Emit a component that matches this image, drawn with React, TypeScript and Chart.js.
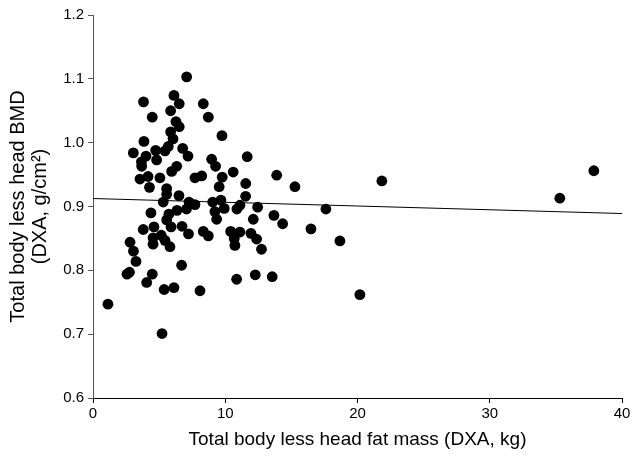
import React, { useEffect, useRef } from "react";
import { Chart, registerables } from "chart.js";

Chart.register(...registerables);

const xTitle = "Total body less head fat mass (DXA, kg)";
const yTitle = ["Total body less head BMD", "(DXA, g/cm²)"];

const fatMass = [
  7.08, 3.82, 6.12, 6.52, 5.87, 4.48, 6.27, 6.52, 5.87, 6.05,
  3.85, 5.69, 3.05, 4.01, 4.74, 5.44, 6.78, 7.18, 4.81, 3.68,
  6.33, 5.95, 3.55, 4.16, 5.06, 4.27, 5.57, 5.57, 6.50, 5.31,
  7.26, 4.38, 5.74, 6.35, 7.07, 5.57, 3.80, 4.61, 5.90, 6.73,
  7.22, 5.16, 4.54, 5.44, 2.80, 5.82, 4.54, 3.06, 3.25, 6.70,
  2.57, 2.76, 4.48, 4.06, 5.38, 6.12, 1.13, 5.22, 8.34, 8.72,
  9.75, 11.66, 8.97, 9.27, 7.71, 8.22, 9.77, 10.60, 13.89, 9.54,
  11.55, 15.27, 11.54, 7.71, 9.05, 9.67, 9.92, 9.22, 9.35, 11.11,
  10.88, 12.45, 12.12, 13.68, 14.34, 8.34, 8.72, 10.41, 11.11, 10.68,
  10.73, 11.94, 12.37, 12.74, 10.86, 12.27, 13.55, 8.09, 16.48, 17.61,
  18.67, 20.18, 21.84, 35.30, 37.87, 3.66,
];

const bmd = [
  1.103, 1.064, 1.074, 1.061, 1.050, 1.040, 1.033, 1.025, 1.017, 1.006,
  1.002, 0.994, 0.984, 0.979, 0.988, 0.987, 0.991, 0.979, 0.973, 0.963,
  0.963, 0.955, 0.943, 0.947, 0.945, 0.930, 0.928, 0.919, 0.917, 0.907,
  0.907, 0.890, 0.888, 0.894, 0.896, 0.879, 0.864, 0.868, 0.868, 0.869,
  0.857, 0.855, 0.851, 0.847, 0.844, 0.837, 0.841, 0.830, 0.814, 0.808,
  0.794, 0.797, 0.794, 0.781, 0.770, 0.773, 0.747, 0.701, 1.061, 1.040,
  1.011, 0.978, 0.974, 0.963, 0.945, 0.948, 0.946, 0.954, 0.949, 0.931,
  0.936, 0.931, 0.916, 0.903, 0.907, 0.910, 0.897, 0.892, 0.880, 0.902,
  0.896, 0.899, 0.880, 0.886, 0.873, 0.861, 0.854, 0.861, 0.860, 0.850,
  0.839, 0.858, 0.849, 0.833, 0.786, 0.793, 0.790, 0.768, 0.865, 0.896,
  0.846, 0.762, 0.940, 0.913, 0.956, 0.970,
];

const fitX = [0, 40];
const fitY = [0.9125, 0.889];

export default function App() {
  const ref = useRef<HTMLCanvasElement>(null);
  useEffect(() => {
    if (!ref.current) return;
    const family = "'Liberation Sans', Arial, sans-serif";
    const tickFont = { family, size: 15 };
    const xTitleFont = { family, size: 19, lineHeight: 1.15 };
    const yTitleFont = { family, size: 20, lineHeight: 1.1 };
    const chart = new Chart(ref.current, {
      type: "scatter",
      data: {
        datasets: [
          {
            type: "line",
            data: fitX.map((x, i) => ({ x, y: fitY[i] })),
            borderColor: "#000",
            borderWidth: 1,
            pointRadius: 0,
            fill: false,
          },
          {
            data: fatMass.map((x, i) => ({ x, y: bmd[i] })),
            backgroundColor: "#000",
            borderColor: "#000",
            pointRadius: 5.4,
            borderWidth: 0,
          },
        ],
      },
      options: {
        animation: false,
        responsive: false,
        maintainAspectRatio: false,
        layout: { padding: { top: 15, right: 11, left: 0, bottom: 0 } },
        plugins: { legend: { display: false }, tooltip: { enabled: false } },
        scales: {
          x: {
            type: "linear",
            min: 0,
            max: 40,
            afterFit: (s: any) => { s.height = 65; },
            ticks: { stepSize: 10, color: "#000", font: tickFont, padding: 2 },
            grid: { drawOnChartArea: false, tickLength: 5, color: "#000" },
            border: { color: "#000", width: 1 },
            title: { display: true, text: xTitle, color: "#000", font: xTitleFont, padding: { top: 0, bottom: 12 } },
          },
          y: {
            type: "linear",
            min: 0.6,
            max: 1.2,
            afterFit: (s: any) => { s.width = 93; },
            ticks: { stepSize: 0.1, color: "#000", font: tickFont, padding: 4, callback: (v: any) => Number(v).toFixed(1) },
            grid: { drawOnChartArea: false, tickLength: 5, color: "#555" },
            border: { color: "#555", width: 1 },
            title: { display: true, text: yTitle, color: "#000", font: yTitleFont, padding: { top: 7, bottom: 0 } },
          },
        },
      },
    });
    return () => chart.destroy();
  }, []);
  return (
    <div style={{ position: "absolute", left: 0, top: 0, width: 633, height: 463, background: "#fff" }}>
      <canvas ref={ref} width={633} height={463} style={{ width: 633, height: 463 }} />
    </div>
  );
}
